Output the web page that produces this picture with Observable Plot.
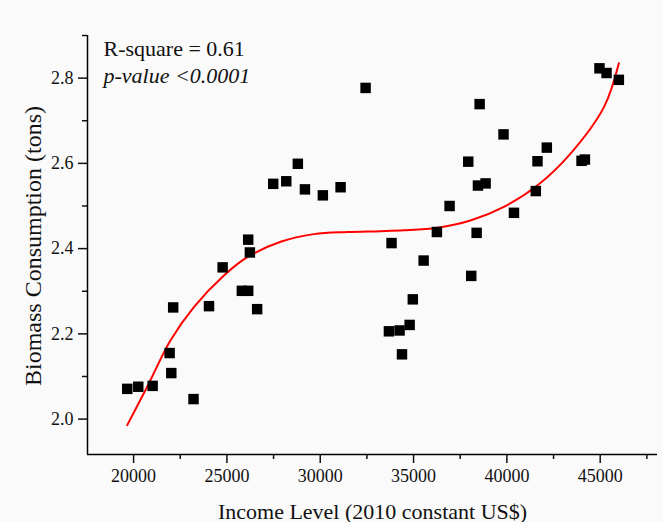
<!DOCTYPE html>
<html>
<head>
<meta charset="utf-8">
<script src="https://cdn.jsdelivr.net/npm/d3@7"></script>
<script src="https://cdn.jsdelivr.net/npm/@observablehq/plot@0.6"></script>
<style>
  html, body { margin: 0; padding: 0; background: #fafafa; }
  #chart { width: 663px; height: 522px; }
</style>
</head>
<body>
<div id="chart"></div>
<script>
// Observed data: income (2010 constant US$) vs biomass consumption (tons)
const income = [
  32430, 28800, 27480, 28180, 29180, 30140, 31090,
  26140, 26230, 24770, 25800, 26140, 26620, 22120, 24040, 21930, 22020, 23210, 19660, 20250, 21020,
  44960, 45340, 46000, 38540, 39820, 42140, 37930, 41640, 44000, 44180, 38450, 38860, 36930, 41550, 40380, 36250, 38380,
  33820, 35540, 38090, 34960, 33680, 34250, 34790, 34380
];
const biomass = [
  2.777, 2.599, 2.552, 2.558, 2.539, 2.525, 2.544,
  2.421, 2.391, 2.356, 2.301, 2.301, 2.258, 2.262, 2.265, 2.155, 2.108, 2.047, 2.071, 2.076, 2.078,
  2.823, 2.812, 2.796, 2.739, 2.668, 2.637, 2.604, 2.605, 2.606, 2.609, 2.548, 2.553, 2.500, 2.535, 2.484, 2.439, 2.437,
  2.413, 2.372, 2.336, 2.281, 2.206, 2.208, 2.221, 2.152
];
// Fitted curve
const fitX = [19660, 20730, 21980, 23230, 24840, 26090, 27880, 29660, 31450, 33230, 34480, 36270, 38050, 39840, 41630, 43410, 45200, 46000];
const fitY = [1.986, 2.076, 2.185, 2.263, 2.337, 2.380, 2.416, 2.434, 2.439, 2.441, 2.443, 2.449, 2.466, 2.498, 2.548, 2.623, 2.732, 2.835];

const xTicks = [20000, 25000, 30000, 35000, 40000, 45000];
const xMinor = [22500, 27500, 32500, 37500, 42500, 47500];
const yTicks = [2.0, 2.2, 2.4, 2.6, 2.8];
const yMinor = [2.1, 2.3, 2.5, 2.7, 2.9];

const xLabel = "Income Level (2010 constant US$)";
const yLabel = "Biomass Consumption (tons)";
const note1 = "R-square = 0.61";
const note2 = "p-value <0.0001";

const points = income.map((x, i) => ({x, y: biomass[i]}));
const fit = fitX.map((x, i) => ({x, y: fitY[i]}));

const xDomain = [17530, 48070];
const yDomain = [1.917, 2.9];

const chart = Plot.plot({
  width: 663,
  height: 522,
  marginLeft: 87,
  marginRight: 6,
  marginTop: 35,
  marginBottom: 68,
  style: {fontFamily: "'Liberation Serif', 'Times New Roman', serif", fontSize: "18px", color: "#111", background: "#fafafa"},
  x: {domain: xDomain},
  y: {domain: yDomain},
  marks: [
    Plot.axisX(xTicks, {tickSize: 9, tickPadding: 6, tickFormat: d => String(d), label: null, fontSize: 18, strokeWidth: 1.5}),
    Plot.axisX(xMinor, {tickSize: 5, tickFormat: () => "", label: null, strokeWidth: 1.5}),
    Plot.axisY(yTicks, {tickSize: 9, tickPadding: 5, tickFormat: d3.format(".1f"), label: null, fontSize: 18, strokeWidth: 1.5}),
    Plot.axisY(yMinor, {tickSize: 5, tickFormat: () => "", label: null, strokeWidth: 1.5}),
    Plot.ruleX([xDomain[0]], {stroke: "#000", strokeWidth: 1.5}),
    Plot.ruleY([yDomain[0]], {stroke: "#000", strokeWidth: 1.5}),
    Plot.text([xLabel], {frameAnchor: "bottom", dy: 64, lineAnchor: "bottom", fontSize: 22, fill: "#111"}),
    Plot.text([yLabel], {frameAnchor: "left", dx: -47, dy: 1, rotate: -90, textAnchor: "middle", lineAnchor: "bottom", fontSize: 24, fill: "#111"}),
    Plot.line(fit, {x: "x", y: "y", stroke: "#ff0000", strokeWidth: 2, curve: "catmull-rom"}),
    Plot.dot(points, {x: "x", y: "y", symbol: "square", r: 5.9, fill: "#000", stroke: "none"}),
    Plot.text([note1], {frameAnchor: "top-left", dx: 16, dy: 20, fontSize: 22, textAnchor: "start", lineAnchor: "bottom", fill: "#111"}),
    Plot.text([note2], {frameAnchor: "top-left", dx: 16, dy: 47.5, fontSize: 22, fontStyle: "italic", textAnchor: "start", lineAnchor: "bottom", fill: "#111"})
  ]
});
document.getElementById("chart").appendChild(chart);
</script>
</body>
</html>
